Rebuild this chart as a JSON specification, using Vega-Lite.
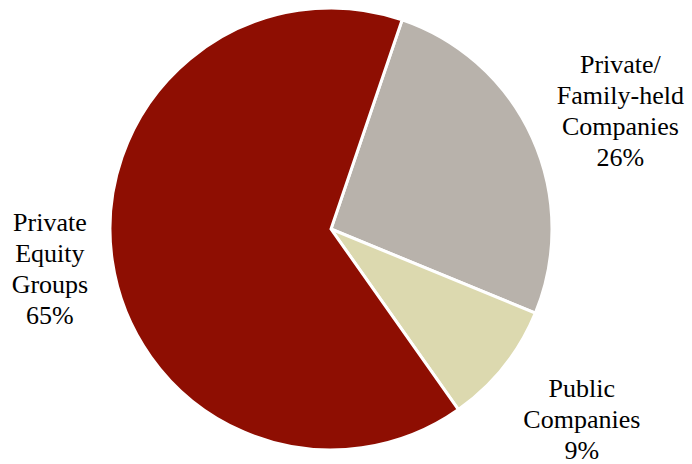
{
  "$schema": "https://vega.github.io/schema/vega-lite/v6.json",
  "width": 662,
  "height": 458,
  "autosize": "none",
  "padding": {"left": 0, "right": 30, "top": 0, "bottom": 6},
  "background": "white",
  "view": {"stroke": null},
  "data": {
    "values": [
      {"key": "a", "category": "Private/Family-held Companies", "value": 26, "order": 1, "label": "Private/\nFamily-held\nCompanies\n26%"},
      {"key": "b", "category": "Public Companies", "value": 9, "order": 2, "label": "Public\nCompanies\n9%"},
      {"key": "c", "category": "Private Equity Groups", "value": 65, "order": 3, "label": "Private\nEquity\nGroups\n65%"}
    ]
  },
  "encoding": {
    "theta": {"field": "value", "type": "quantitative", "stack": true, "scale": {"range": [0.328, 6.611]}},
    "order": {"field": "order", "type": "quantitative"}
  },
  "layer": [
    {
      "mark": {"type": "arc", "outerRadius": 221, "stroke": "white", "strokeWidth": 3},
      "encoding": {
        "color": {
          "field": "category",
          "type": "nominal",
          "scale": {
            "domain": ["Private/Family-held Companies", "Public Companies", "Private Equity Groups"],
            "range": ["#B8B2AB", "#DCD9AF", "#8E0E02"]
          },
          "legend": null
        }
      }
    },
    {
      "mark": {"type": "text", "radius": 309, "dx": 8, "dy": -36, "font": "Liberation Serif", "fontSize": 26, "lineHeight": 31, "lineBreak": "\n", "align": "center", "baseline": "middle", "color": "black"},
      "encoding": {"text": {"condition": {"test": "datum.key == 'a'", "field": "label"}, "value": ""}}
    },
    {
      "mark": {"type": "text", "radius": 326, "dx": -4, "dy": -43, "font": "Liberation Serif", "fontSize": 26, "lineHeight": 31, "lineBreak": "\n", "align": "center", "baseline": "middle", "color": "black"},
      "encoding": {"text": {"condition": {"test": "datum.key == 'b'", "field": "label"}, "value": ""}}
    },
    {
      "mark": {"type": "text", "radius": 284, "dy": -47, "font": "Liberation Serif", "fontSize": 26, "lineHeight": 31, "lineBreak": "\n", "align": "center", "baseline": "middle", "color": "black"},
      "encoding": {"text": {"condition": {"test": "datum.key == 'c'", "field": "label"}, "value": ""}}
    }
  ]
}
